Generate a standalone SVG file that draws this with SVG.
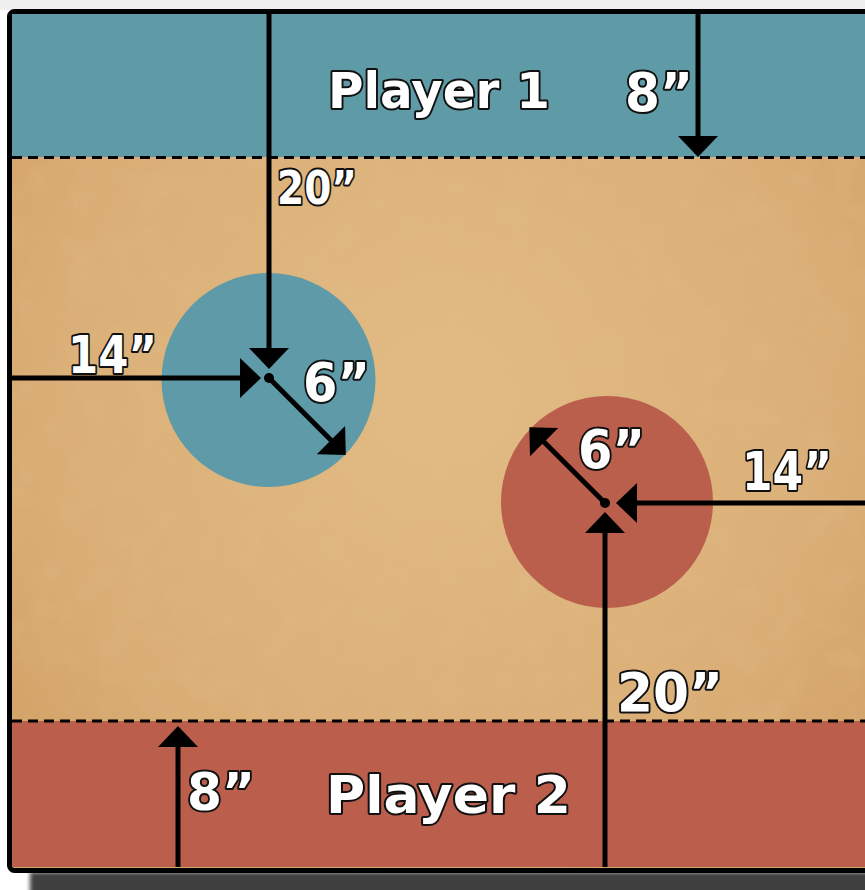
<svg xmlns="http://www.w3.org/2000/svg" width="865" height="890" viewBox="0 0 865 890">
<defs>
<style>
.lbl{font-family:"DejaVu Sans","Liberation Sans",sans-serif;font-weight:bold;fill:#ffffff;stroke:#111111;stroke-width:4;stroke-linejoin:round;paint-order:stroke;}
.ln{stroke:#000;stroke-width:5;fill:none;}
.dash{stroke:#000;stroke-width:3;stroke-dasharray:10 6;fill:none;}
</style>
<radialGradient id="paper" cx="0.5" cy="0.45" r="0.6">
<stop offset="0" stop-color="#e2bb84"/>
<stop offset="0.7" stop-color="#dbb078"/>
<stop offset="1" stop-color="#d4a56b"/>
</radialGradient>
<filter id="grain" x="0" y="0" width="1" height="1">
<feTurbulence type="fractalNoise" baseFrequency="0.03" numOctaves="4" seed="7" result="n"/>
<feColorMatrix in="n" type="matrix" values="0 0 0 0 0.75  0 0 0 0 0.5  0 0 0 0 0.25  0 0 0 -2.2 1.25" result="c"/>
<feComposite in="c" in2="SourceGraphic" operator="in"/>
</filter>
<filter id="soft" x="-0.1" y="-1" width="1.2" height="3">
<feGaussianBlur stdDeviation="2"/>
</filter>
<marker id="ah" markerUnits="userSpaceOnUse" markerWidth="22" markerHeight="42" viewBox="0 0 22 42" refX="9" refY="21" orient="auto">
<path d="M0,1 L21,21 L0,41 Z" fill="#000"/>
</marker>
</defs>
<rect x="0" y="0" width="865" height="890" fill="#ffffff"/>
<rect x="0" y="0" width="865" height="10" fill="#efefef"/>
<rect x="30" y="872" width="860" height="24" fill="#3f3f3f" filter="url(#soft)"/>
<g id="board">
<rect x="9.5" y="11.5" width="870" height="859" rx="5" fill="url(#paper)" stroke="#000" stroke-width="5"/>
<rect x="12" y="157" width="860" height="564" fill="#ffffff" filter="url(#grain)" opacity="0.3"/>
<rect x="12" y="14" width="860" height="143" fill="#5e9ba6"/>
<rect x="12" y="721" width="860" height="146" fill="#bb5f4c"/>
<line class="dash" x1="12" y1="157.5" x2="865" y2="157.5"/>
<line class="dash" x1="12" y1="721" x2="865" y2="721"/>
</g>
<g id="zone-player1"><text class="lbl" x="328" y="108" font-size="50" textLength="222" lengthAdjust="spacingAndGlyphs">Player 1</text></g>
<g id="zone-player2"><text class="lbl" x="326" y="813" font-size="52" textLength="245" lengthAdjust="spacingAndGlyphs">Player 2</text></g>
<g id="objective-blue"><circle cx="268.5" cy="380" r="107" fill="#5e9aa7"/></g>
<g id="objective-red"><circle cx="607" cy="502" r="106" fill="#bb5f4d"/></g>
<g id="connectors">
<line class="ln" x1="269" y1="14" x2="269" y2="357" marker-end="url(#ah)"/>
<line class="ln" x1="12" y1="378" x2="249" y2="378" marker-end="url(#ah)"/>
<line class="ln" x1="269" y1="378" x2="337.3" y2="446.4" marker-end="url(#ah)"/>
<line class="ln" x1="698" y1="14" x2="698" y2="145" marker-end="url(#ah)"/>
<line class="ln" x1="870" y1="503" x2="628" y2="503" marker-end="url(#ah)"/>
<line class="ln" x1="605" y1="867" x2="605" y2="524" marker-end="url(#ah)"/>
<line class="ln" x1="605" y1="503" x2="537.8" y2="435.8" marker-end="url(#ah)"/>
<line class="ln" x1="178" y1="867" x2="178" y2="738" marker-end="url(#ah)"/>
<circle cx="269" cy="378" r="5" fill="#000"/>
<circle cx="605" cy="503" r="5" fill="#000"/>
</g>
<g id="labels">
<text class="lbl" x="625" y="111" font-size="53" textLength="68" lengthAdjust="spacingAndGlyphs">8”</text>
<text class="lbl" x="277" y="204" font-size="47" textLength="80" lengthAdjust="spacingAndGlyphs">20”</text>
<text class="lbl" x="68" y="373" font-size="52" textLength="89" lengthAdjust="spacingAndGlyphs">14”</text>
<text class="lbl" x="303" y="401" font-size="53" textLength="67" lengthAdjust="spacingAndGlyphs">6”</text>
<text class="lbl" x="578" y="468" font-size="53" textLength="67" lengthAdjust="spacingAndGlyphs">6”</text>
<text class="lbl" x="742" y="490" font-size="53" textLength="90" lengthAdjust="spacingAndGlyphs">14”</text>
<text class="lbl" x="617" y="711" font-size="53" textLength="106" lengthAdjust="spacingAndGlyphs">20”</text>
<text class="lbl" x="187" y="810" font-size="52" textLength="68" lengthAdjust="spacingAndGlyphs">8”</text>
</g>
</svg>
